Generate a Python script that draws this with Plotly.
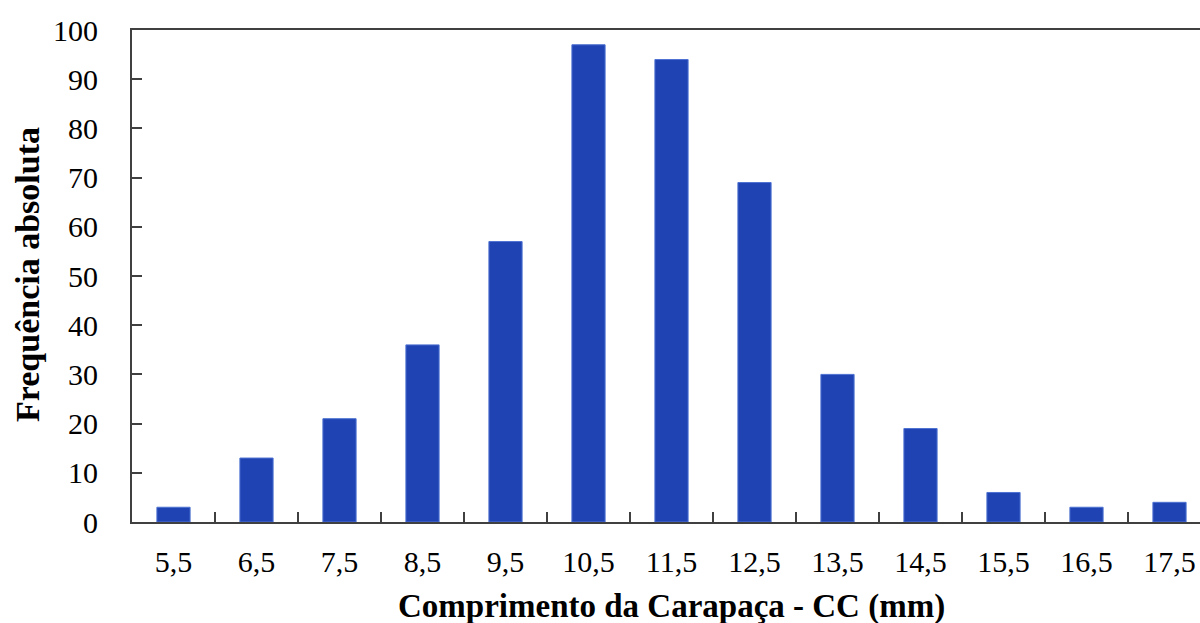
import plotly.graph_objects as go

categories = ["5,5", "6,5", "7,5", "8,5", "9,5", "10,5", "11,5", "12,5", "13,5", "14,5", "15,5", "16,5", "17,5"]
frequencies = [3, 13, 21, 36, 57, 97, 94, 69, 30, 19, 6, 3, 4]
y_ticks = list(range(0, 101, 10))

x_title = "Comprimento da Carapaça - CC (mm)"
y_title = "Frequência absoluta"

W, H = 1200, 623
ml, mt, mb, mr = 132, 30, 101, 0
pw = W - ml - mr
ph = H - mt - mb
step = 83.0

fig = go.Figure(go.Bar(
    x=categories, y=frequencies, width=0.4,
    marker=dict(color="#2043B4", line=dict(color="#4E72D2", width=1)),
))

serif = "Liberation Serif, Times New Roman, serif"
axis_font = dict(family=serif, size=30, color="black")
title_font = dict(family=serif, size=33, color="black")
fig.update_layout(
    width=W, height=H,
    margin=dict(l=ml, r=mr, t=mt, b=mb, pad=0, autoexpand=False),
    paper_bgcolor="white", plot_bgcolor="white",
    showlegend=False,
    font=axis_font,
    xaxis=dict(
        type="category", range=[-0.5, -0.5 + pw / step], automargin=False,
        showline=True, linecolor="#404040", linewidth=2, mirror=True,
        ticks="inside", tickson="boundaries", ticklen=10, tickwidth=1.5, tickcolor="#404040",
        showgrid=False, zeroline=False, tickfont=axis_font, ticklabelstandoff=12,
    ),
    yaxis=dict(
        range=[0, 100], tickvals=y_ticks, automargin=False,
        showline=True, linecolor="#404040", linewidth=2,
        ticks="inside", ticklen=10, tickwidth=1.5, tickcolor="#404040",
        showgrid=False, zeroline=False, tickfont=axis_font, ticklabelstandoff=26,
    ),
    annotations=[
        dict(text="<b>" + x_title + "</b>", xref="paper", yref="paper",
             x=(671 - ml) / pw, y=(H - mb - 606) / ph, xanchor="center", yanchor="middle",
             showarrow=False, font=title_font),
        dict(text="<b>" + y_title + "</b>", xref="paper", yref="paper",
             x=(27 - ml) / pw, y=(H - mb - 275) / ph, xanchor="center", yanchor="middle", textangle=-90,
             showarrow=False, font=dict(family=serif, size=34, color="black")),
    ],
)

fig.write_html(
    "out.html",
    config={"displayModeBar": False},
    post_script="document.body.style.margin='0';document.body.style.padding='0';document.body.style.overflow='hidden';",
)
